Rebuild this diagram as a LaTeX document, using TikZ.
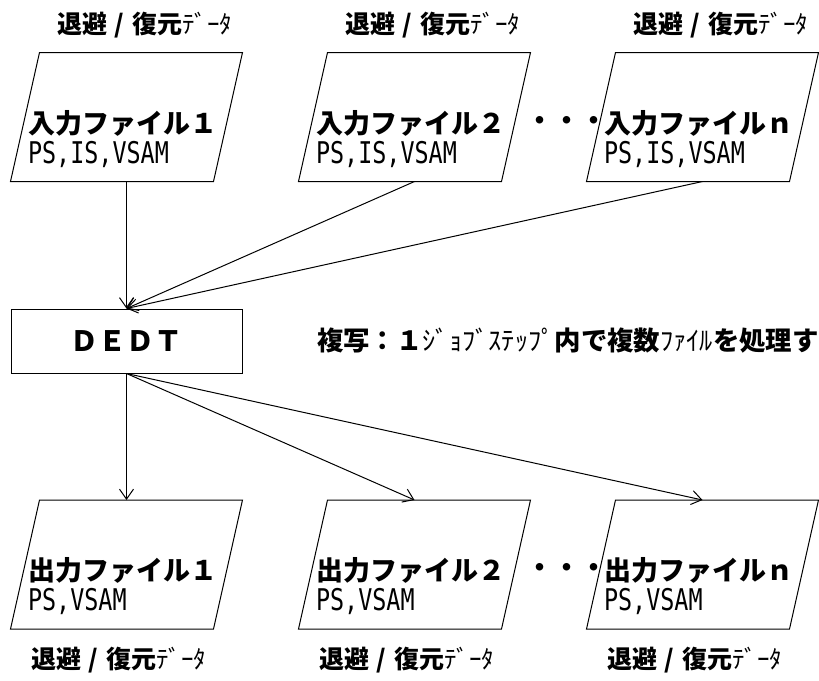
\documentclass[tikz,border=0pt]{standalone}
\usepackage{fontspec}
\setmainfont{Noto Sans CJK JP}
\newfontfamily\monofnt[FakeStretch=0.9]{DejaVu Sans Mono}
\usetikzlibrary{arrows.meta,positioning}
\tikzstyle{datafile} = [rectangle, minimum width=231pt, minimum height=128pt, inner sep=0pt]
\tikzstyle{process} = [rectangle, draw, minimum width=231pt, minimum height=64pt, inner sep=0pt, font=\fontsize{28}{30}\selectfont\bfseries]
\tikzstyle{filename} = [anchor=west, inner sep=0pt, font=\fontsize{27}{30}\selectfont\bfseries]
\tikzstyle{filetype} = [anchor=west, inner sep=0pt, font=\fontsize{26}{28}\selectfont\monofnt]
\tikzstyle{caption} = [inner sep=0pt, font=\fontsize{25}{28}\selectfont]
\newcommand{\fileshape}[1]{\draw ([xshift=29pt]#1.north west) -- (#1.north east) -- ([xshift=-29pt]#1.south east) -- (#1.south west) -- cycle;}
\newcommand{\savedata}{{\bfseries 退避\makebox[1em]{/}復元}ﾃﾞｰﾀ}
\newcommand{\tallmono}[1]{\scalebox{1}[1.15]{#1}}

\begin{document}
\begin{tikzpicture}[x=1pt,y=-1pt,line width=1pt,>={Straight Barb[length=10pt,width=14pt]}]
    \useasboundingbox (0,0) rectangle (819,680);
    \node[datafile] (in1) at (126.5,117) {};
    \node[datafile] (in2) at (414.5,117) {};
    \node[datafile] (inn) at (702.5,117) {};
    \node[process] (dedt) at (126.5,341) {ＤＥＤＴ};
    \node[datafile] (out1) at (126.5,564.5) {};
    \node[datafile] (out2) at (414.5,564.5) {};
    \node[datafile] (outn) at (702.5,564.5) {};
    \foreach \f in {in1,in2,inn,out1,out2,outn} {\fileshape{\f}}

    \node[filename] (in1name) at ([shift={(-99,6)}]in1.center) {入力ファイル１};
    \node[filetype] (in1type) at ([shift={(-99,37)}]in1.center) {\tallmono{PS,IS,VSAM}};
    \node[filename] (in2name) at ([shift={(-99,6)}]in2.center) {入力ファイル２};
    \node[filetype] (in2type) at ([shift={(-99,37)}]in2.center) {\tallmono{PS,IS,VSAM}};
    \node[filename] (innname) at ([shift={(-99,6)}]inn.center) {入力ファイルｎ};
    \node[filetype] (inntype) at ([shift={(-99,37)}]inn.center) {\tallmono{PS,IS,VSAM}};
    \node[filename,anchor=center] (indots) at ([shift={(152,6)}]in2.center) {・・・};

    \node[filename] (out1name) at ([shift={(-99,6)}]out1.center) {出力ファイル１};
    \node[filetype] (out1type) at ([shift={(-99,37)}]out1.center) {\tallmono{PS,VSAM}};
    \node[filename] (out2name) at ([shift={(-99,6)}]out2.center) {出力ファイル２};
    \node[filetype] (out2type) at ([shift={(-99,37)}]out2.center) {\tallmono{PS,VSAM}};
    \node[filename] (outnname) at ([shift={(-99,6)}]outn.center) {出力ファイルｎ};
    \node[filetype] (outntype) at ([shift={(-99,37)}]outn.center) {\tallmono{PS,VSAM}};
    \node[filename,anchor=center] (outdots) at ([shift={(152,6)}]out2.center) {・・・};

    \node[caption] (in1data) at ([shift={(18,-92)}]in1.center) {\savedata};
    \node[caption] (in2data) at ([shift={(18,-92)}]in2.center) {\savedata};
    \node[caption] (inndata) at ([shift={(18,-92)}]inn.center) {\savedata};
    \node[caption] (out1data) at ([shift={(-8,96)}]out1.center) {\savedata};
    \node[caption] (out2data) at ([shift={(-8,96)}]out2.center) {\savedata};
    \node[caption] (outndata) at ([shift={(-8,96)}]outn.center) {\savedata};

    \node[caption, font=\fontsize{26.4}{28}\selectfont, right=74pt of dedt] (note) {{\bfseries 複写：１}ｼﾞｮﾌﾞｽﾃｯﾌﾟ{\bfseries 内で複数}ﾌｧｲﾙ{\bfseries を処理す}};

    \draw[->] (in1.south) -- (dedt.north);
    \draw[->] (in2.south) -- (dedt.north);
    \draw[->] (inn.south) -- (dedt.north);
    \draw[->] (dedt.south) -- (out1.north);
    \draw[->] (dedt.south) -- (out2.north);
    \draw[->] (dedt.south) -- (outn.north);
\end{tikzpicture}
\end{document}
